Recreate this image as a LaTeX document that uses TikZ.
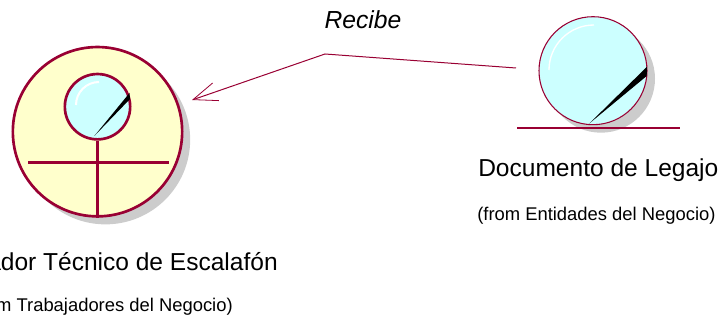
\documentclass[tikz,border=0pt]{standalone}
\usepackage{fontspec}
\setmainfont{Liberation Sans}
\usetikzlibrary{arrows.meta,shadows}
\definecolor{rosemaroon}{HTML}{990033}
\definecolor{bodyyellow}{HTML}{FFFFCC}
\definecolor{glasscyan}{HTML}{CCFFFF}
\definecolor{shadowgray}{HTML}{CCCCCC}
\tikzset{
    rosedrop/.style={drop shadow={shadow xshift=6pt,shadow yshift=-6pt,fill=shadowgray,opacity=1}},
    workerbody/.style={circle,draw=rosemaroon,line width=2pt,fill=bodyyellow,inner sep=0pt,minimum size=127pt,rosedrop},
    workerhead/.style={circle,draw=rosemaroon,line width=2pt,fill=glasscyan,inner sep=0pt,minimum size=49pt},
    entitybody/.style={circle,draw=rosemaroon,line width=0.8pt,fill=glasscyan,inner sep=0pt,minimum size=81pt,rosedrop},
    limb/.style={draw=rosemaroon,line width=2pt},
    thinlimb/.style={draw=rosemaroon,line width=0.8pt},
    glint/.style={draw=white,line width=1pt},
    needle/.style={fill=black,draw=none},
    namelabel/.style={inner sep=0pt,font=\fontsize{18.4pt}{22pt}\selectfont},
    fromlabel/.style={inner sep=0pt,font=\fontsize{13.8pt}{16pt}\selectfont},
    relation/.style={draw=rosemaroon,line width=0.75pt,-{Straight Barb[length=18pt,width=14pt,line width=0.6pt]}}
}
\begin{document}
\begin{tikzpicture}[x=0.75pt,y=-0.75pt]
    \useasboundingbox (0,0) rectangle (721,320);
    % trabajador
    \node[workerbody] (trabajador) at (97.5,131.7) {};
    \node[workerhead] (cabeza) at (97.5,106.7) {};
    \draw[limb] (cabeza.south) -- (trabajador.south);
    \coordinate (brazoizq) at (28,162.7);
    \coordinate (brazoder) at (169,162.7);
    \draw[limb] (brazoizq) -- (brazoder);
    \draw[glint,line width=1.5pt] (76,105) arc (180:270:23);
    \fill[needle] (94.3,136) -- (129.5,93) -- (130,99) -- cycle;
    % entidad
    \node[entitybody] (legajo) at (593,70.7) {};
    \coordinate (baseizq) at (517,128);
    \coordinate (baseder) at (680,128);
    \draw[thinlimb] (baseizq) -- (baseder);
    \draw[glint] (549,70) arc (180:270:45);
    \fill[needle] (589.3,123.5) -- (647,66.7) -- (646.7,76) -- cycle;
    % relacion
    \coordinate (salida) at (516,68);
    \coordinate (codo) at (325,54);
    \coordinate (llegada) at (192,100);
    \draw[relation] (salida) -- (codo) -- (llegada);
    \node[inner sep=0pt,font=\fontsize{18.5pt}{22pt}\itshape] (recibe) at (363,20) {Recibe};
    % textos
    \node[namelabel,anchor=east] (nombretrab) at (278,261.5) {ador Técnico de Escalafón};
    \node[fromlabel,anchor=east] (origentrab) at (233,307) {m Trabajadores del Negocio)};
    \node[namelabel,anchor=west] (nombreleg) at (478,170.5) {Documento de Legajo};
    \node[fromlabel,anchor=west] (origenleg) at (477,215.5) {(from Entidades del Negocio)};
\end{tikzpicture}
\end{document}
